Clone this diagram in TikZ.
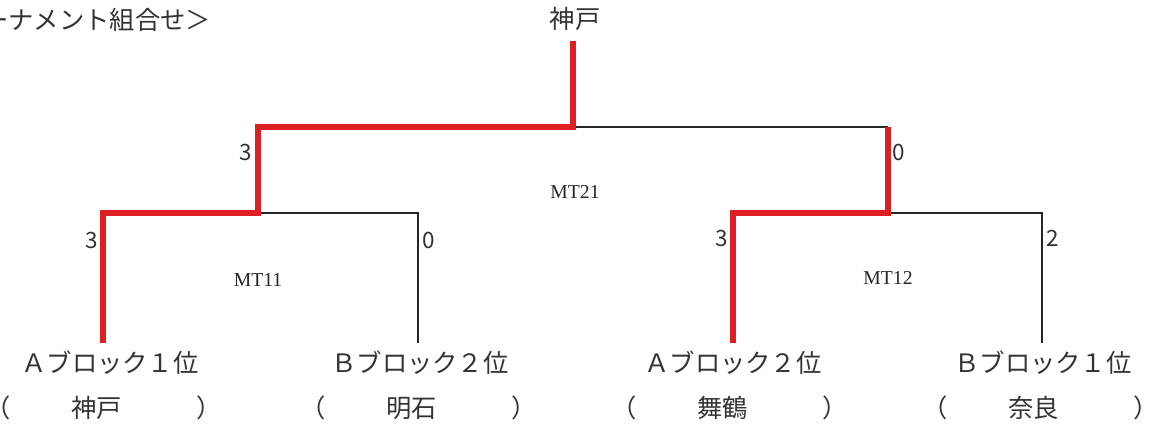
\documentclass[tikz,border=0pt]{standalone}
\usepackage{fontspec}
\setmainfont{Liberation Serif}
\newfontfamily\jp{Noto Sans CJK JP}
\definecolor{redline}{RGB}{222,32,36}
\newcommand\entry[1]{\makebox[5.9cm]{（\hfill #1\hfill\hspace{0.35cm}）}}
\tikzset{
  win/.style={line width=4.2pt, color=redline, line join=miter},
  lose/.style={line width=1.2pt, color=black!85},
  team/.style={font=\jp\fontsize{18}{20}\selectfont, inner sep=0pt, text=black!80},
  score/.style={font=\jp\fontsize{16}{18}\selectfont, inner sep=0pt, text=black!80},
  match/.style={font=\fontsize{14}{16}\selectfont, inner sep=0pt, text=black!85}
}

\begin{document}
\begin{tikzpicture}[x=0.025cm, y=-0.025cm]
  \useasboundingbox (0,0) rectangle (1152,425);
  \node[team, anchor=west] (title) at (-17,20) {ーナメント組合せ＞};
  \node[team] (champ) at (575,19) {神戸};
  % entrants
  \node[team] (a1) at (110,363) {Ａブロック１位};
  \node[team] (b2) at (420,363) {Ｂブロック２位};
  \node[team] (a2) at (733,363) {Ａブロック２位};
  \node[team] (b1) at (1043,363) {Ｂブロック１位};
  \node[team] (n1) at (104,408) {\entry{神戸}};
  \node[team] (n2) at (419,408) {\entry{明石}};
  \node[team] (n3) at (730,408) {\entry{舞鶴}};
  \node[team] (n4) at (1041,408) {\entry{奈良}};
  % bracket points
  \coordinate (f1) at (103,343);
  \coordinate (f2) at (418,343);
  \coordinate (f3) at (733,343);
  \coordinate (f4) at (1042,343);
  \coordinate (m11) at (258,213);
  \coordinate (m12) at (888,213);
  \coordinate (m21) at (573,127);
  \coordinate (r21) at (888,127);
  \coordinate (top) at (573,41);
  \draw[lose] (f2) |- (m11);
  \draw[lose] (f4) |- (m12);
  \draw[lose] (r21) -- (m21);
  \draw[win] (f1) |- (m11) |- (m21) -- (top);
  \draw[win] (f3) |- (m12) -- (r21);
  % scores
  \node[score] (s1) at (92,240) {3};
  \node[score] (s2) at (429,240) {0};
  \node[score] (s3) at (722,238) {3};
  \node[score] (s4) at (1053,238) {2};
  \node[score] (s5) at (246,152) {3};
  \node[score] (s6) at (899,152) {0};
  % match numbers
  \node[match] (mt11) at (258,280) {MT11};
  \node[match] (mt12) at (888,278) {MT12};
  \node[match] (mt21) at (575,192) {MT21};
\end{tikzpicture}
\end{document}
